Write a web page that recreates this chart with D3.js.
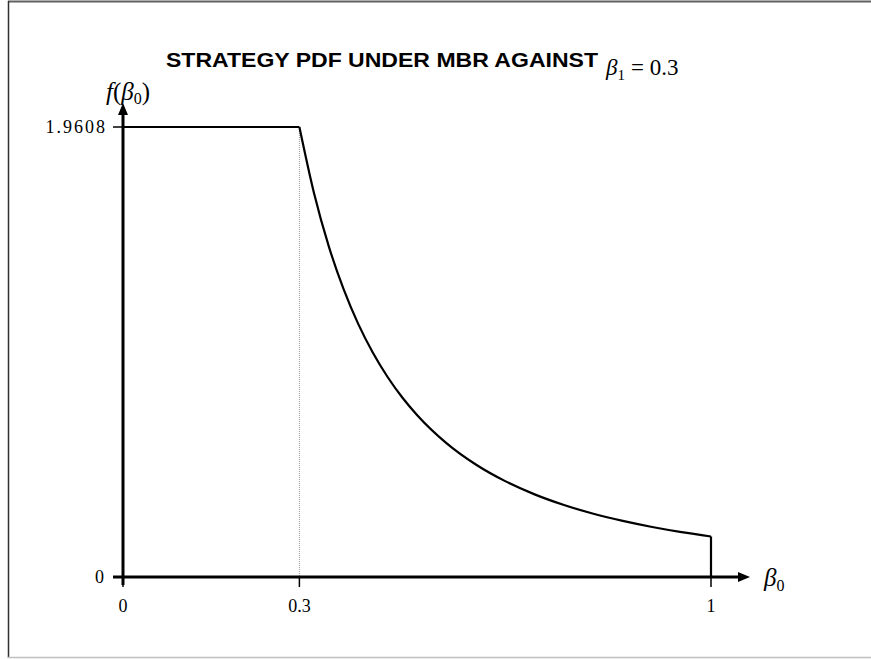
<!DOCTYPE html>
<html><head><meta charset="utf-8">
<script src="https://cdn.jsdelivr.net/npm/d3@7"></script>
<style>html,body{margin:0;padding:0;background:#fff;}svg{display:block;}</style>
</head><body>
<svg id="c" width="871" height="659"></svg>
<script>
// Data
const beta0Flat = [0, 0.3];
const flatValue = 1.9608;
const curveX = [0.30,0.325,0.35,0.375,0.40,0.425,0.45,0.475,0.50,0.55,0.60,0.65,0.70,0.75,0.80,0.85,0.90,0.95,1.00];
const curveY = [1.9608,1.671,1.4406,1.255,1.1029,0.977,0.8715,0.782,0.7059,0.5834,0.4902,0.4177,0.3601,0.3137,0.2757,0.2443,0.2179,0.1955,0.1765];
const xTicks = [0, 0.3, 1];
const xTickLabels = ["0", "0.3", "1"];
const yTicks = [0, 1.9608];
const yTickLabels = ["0", "1.9608"];

const svg = d3.select("#c");
// frame
svg.append("line").attr("x1",8).attr("y1",1.5).attr("x2",871).attr("y2",1.5).attr("stroke","#606060").attr("stroke-width",2);
svg.append("line").attr("x1",8.5).attr("y1",1).attr("x2",8.5).attr("y2",658).attr("stroke","#303030").attr("stroke-width",1.5);
svg.append("line").attr("x1",8).attr("y1",657.5).attr("x2",871).attr("y2",657.5).attr("stroke","#c0c0c0").attr("stroke-width",1.5);

const x = d3.scaleLinear().domain([0,1]).range([123,711]);
const y = d3.scaleLinear().domain([0,1.9608]).range([577,127]);

const serif = "Liberation Serif, Times New Roman, serif";

// title
svg.append("text").attr("x",166).attr("y",67).attr("font-family","Liberation Sans, Arial, sans-serif").attr("font-weight","bold")
  .attr("font-size",20).attr("textLength",432).attr("lengthAdjust","spacingAndGlyphs").attr("fill","#000").text("STRATEGY PDF UNDER MBR AGAINST");
const tm = svg.append("text").attr("x",606).attr("y",75).attr("font-family",serif).attr("font-size",23).attr("fill","#000");
tm.append("tspan").attr("font-style","italic").text("β");
tm.append("tspan").attr("font-size",15).attr("dy",5).text("1");
tm.append("tspan").attr("dy",-5).attr("dx",6).text("= 0.3");

// dotted guide
svg.append("line").attr("x1",x(0.3)).attr("x2",x(0.3)).attr("y1",y(flatValue)).attr("y2",y(0))
  .attr("stroke","#999").attr("stroke-width",1).attr("stroke-dasharray","1,1");

// axes lines
svg.append("line").attr("x1",113).attr("x2",742).attr("y1",y(0)).attr("y2",y(0)).attr("stroke","#000").attr("stroke-width",3);
svg.append("path").attr("d",`M750,${y(0)} L738,${y(0)-5} L738,${y(0)+5} Z`).attr("fill","#000");
svg.append("line").attr("x1",x(0)).attr("x2",x(0)).attr("y1",y(0)+8).attr("y2",112).attr("stroke","#000").attr("stroke-width",3);
svg.append("path").attr("d",`M${x(0)},103 L${x(0)-5},115 L${x(0)+5},115 Z`).attr("fill","#000");

// ticks
xTicks.forEach((v,i)=>{
  svg.append("line").attr("x1",x(v)).attr("x2",x(v)).attr("y1",y(0)).attr("y2",y(0)+10).attr("stroke","#000").attr("stroke-width",1.5);
  svg.append("text").attr("x",x(v)).attr("y",y(0)+35).attr("text-anchor","middle")
    .attr("font-family",serif).attr("font-size",18).attr("fill","#000").text(xTickLabels[i]);
});
yTicks.forEach((v,i)=>{
  svg.append("line").attr("x1",113).attr("x2",x(0)).attr("y1",y(v)).attr("y2",y(v)).attr("stroke","#000").attr("stroke-width",1.5);
  svg.append("text").attr("x",i===0?104:107).attr("y",y(v)+6).attr("text-anchor","end").attr("letter-spacing",i===0?0:2)
    .attr("font-family",serif).attr("font-size",18).attr("fill","#000").text(yTickLabels[i]);
});

// axis labels
const yl = svg.append("text").attr("x",106).attr("y",100).attr("font-family",serif).attr("font-size",25).attr("fill","#000");
yl.append("tspan").attr("font-style","italic").text("f");
yl.append("tspan").text("(");
yl.append("tspan").attr("font-style","italic").text("β");
yl.append("tspan").attr("font-size",16).attr("dy",4).text("0");
yl.append("tspan").attr("dy",-4).text(")");
const xl = svg.append("text").attr("x",764).attr("y",586).attr("font-family",serif).attr("font-size",25).attr("fill","#000");
xl.append("tspan").attr("font-style","italic").text("β");
xl.append("tspan").attr("font-size",16).attr("dy",5).text("0");

// pdf
svg.append("line").attr("x1",x(beta0Flat[0])).attr("x2",x(beta0Flat[1])).attr("y1",y(flatValue)).attr("y2",y(flatValue)).attr("stroke","#000").attr("stroke-width",2.2);
const pts = curveX.map((v,i)=>[v,curveY[i]]);
svg.append("path").datum(pts).attr("d",d3.line().x(d=>x(d[0])).y(d=>y(d[1])).curve(d3.curveMonotoneX))
  .attr("fill","none").attr("stroke","#000").attr("stroke-width",2.2);
svg.append("line").attr("x1",x(1)).attr("x2",x(1)).attr("y1",y(curveY[curveY.length-1])).attr("y2",y(0)).attr("stroke","#000").attr("stroke-width",2.2);
</script>
</body></html>
